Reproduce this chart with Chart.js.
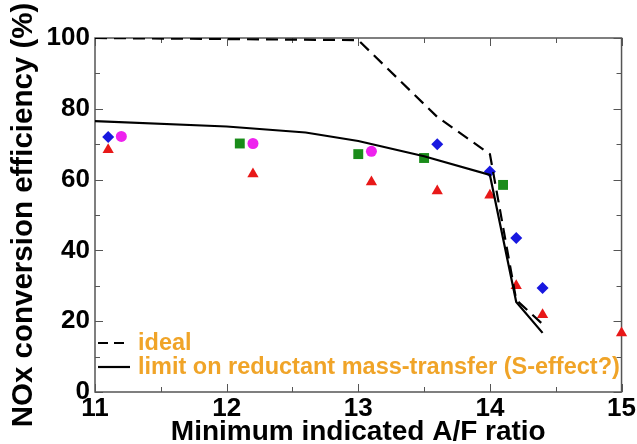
<!DOCTYPE html>
<html>
<head>
<meta charset="utf-8">
<script src="https://cdn.jsdelivr.net/npm/chart.js@4.4.1/dist/chart.umd.min.js"></script>
<style>
  html, body { margin: 0; padding: 0; background: #fff; }
  #wrap { width: 637px; height: 444px; position: relative; }
</style>
</head>
<body>
<div id="wrap"><canvas id="noxChart"></canvas></div>
<script>
// measured points, one array pair per marker type
const diamondAF = [11.1, 13.6, 14.0, 14.2, 14.4];
const diamondEff = [72, 70, 62.3, 43.5, 29.4];
const circleAF = [11.2, 12.2, 13.1];
const circleEff = [72.2, 70.2, 68];
const squareAF = [12.1, 13.0, 13.5, 14.1];
const squareEff = [70.2, 67.2, 66.1, 58.5];
const triangleAF = [11.1, 12.2, 13.1, 13.6, 14.0, 14.2, 14.4, 15.0];
const triangleEff = [68.4, 61.6, 59.3, 56.8, 55.6, 30, 21.8, 16.7];

// model curves
const idealAF = [11, 13, 13.6, 14.0, 14.2, 14.4];
const idealEff = [100, 99.4, 77.7, 67.2, 26, 19.2];
const limitAF = [11, 12, 12.6, 13, 13.5, 14.0, 14.2, 14.4];
const limitEff = [76.5, 75, 73.3, 70.9, 66.6, 61.3, 25.4, 16.7];

const legendLabels = ['ideal', 'limit on reductant mass-transfer (S-effect?)'];
const xTicks = [11, 12, 13, 14, 15];

const FONT = '"Liberation Sans", Arial, sans-serif';
const pts = (xs, ys) => xs.map((x, i) => ({ x: x, y: ys[i] }));

// frame with inward ticks on all four sides
const frameTicks = {
  id: 'frameTicks',
  beforeDatasetsDraw(chart) {
    const { ctx, chartArea: a, scales: { x, y } } = chart;
    ctx.save();
    ctx.strokeStyle = '#555';
    ctx.lineWidth = 1.5;
    ctx.strokeRect(a.left, a.top, a.right - a.left, a.bottom - a.top);
    ctx.beginPath();
    for (let v = 11; v <= 15.001; v += 0.5) {
      const px = Math.round(x.getPixelForValue(v)) + 0.5;
      const len = Number.isInteger(v) ? 8 : 5;
      ctx.moveTo(px, a.bottom); ctx.lineTo(px, a.bottom - len);
      ctx.moveTo(px, a.top); ctx.lineTo(px, a.top + len);
    }
    for (let v = 0; v <= 100; v += 10) {
      const py = Math.round(y.getPixelForValue(v)) + 0.5;
      const len = v % 20 === 0 ? 8 : 5;
      ctx.moveTo(a.left, py); ctx.lineTo(a.left + len, py);
      ctx.moveTo(a.right, py); ctx.lineTo(a.right - len, py);
    }
    ctx.lineWidth = 1;
    ctx.stroke();
    ctx.restore();
  }
};

// line-style key in the lower left of the plot
const lineKey = {
  id: 'lineKey',
  afterDatasetsDraw(chart) {
    const { ctx, chartArea: a } = chart;
    const rows = [a.bottom - 49, a.bottom - 25];
    ctx.save();
    ctx.strokeStyle = '#000';
    ctx.lineWidth = 2.2;
    rows.forEach((ry, i) => {
      ctx.setLineDash(i === 0 ? [10, 6] : []);
      ctx.beginPath();
      ctx.moveTo(a.left + 3, ry);
      ctx.lineTo(a.left + 35, ry);
      ctx.stroke();
    });
    ctx.setLineDash([]);
    ctx.fillStyle = '#f0a428';
    ctx.font = 'bold 23.5px ' + FONT;
    ctx.textBaseline = 'middle';
    rows.forEach((ry, i) => ctx.fillText(legendLabels[i], a.left + 43, ry + 1));
    ctx.restore();
  }
};

const marker = (label, xs, ys, style, color, r) => ({
  label: label, data: pts(xs, ys), showLine: false, clip: false,
  pointStyle: style, pointRadius: r, pointHoverRadius: r,
  backgroundColor: color, borderColor: color, borderWidth: 0
});

new Chart(document.getElementById('noxChart'), {
  type: 'scatter',
  data: {
    datasets: [
      { label: legendLabels[0], data: pts(idealAF, idealEff), showLine: true, borderColor: '#000', borderWidth: 2.2, borderDash: [12, 7], pointRadius: 0, tension: 0 },
      { label: legendLabels[1], data: pts(limitAF, limitEff), showLine: true, borderColor: '#000', borderWidth: 2.2, pointRadius: 0, tension: 0 },
      marker('diamond', diamondAF, diamondEff, 'rectRot', '#1818e0', 6),
      marker('circle', circleAF, circleEff, 'circle', '#ee22ee', 5.5),
      marker('square', squareAF, squareEff, 'rect', '#1a8c1a', 7),
      marker('triangle', triangleAF, triangleEff, 'triangle', '#e81818', 6.5)
    ]
  },
  options: {
    responsive: true,
    maintainAspectRatio: false,
    animation: false,
    layout: { padding: { left: 0, right: 13, top: 38, bottom: 0 } },
    plugins: { legend: { display: false }, tooltip: { enabled: false } },
    scales: {
      x: {
        type: 'linear', min: 11, max: 15,
        afterBuildTicks: (s) => { s.ticks = xTicks.map(v => ({ value: v })); },
        afterFit: (s) => { s.height = 52; },
        grid: { display: false, drawTicks: false },
        border: { display: false },
        ticks: { color: '#000', padding: 1, font: { family: FONT, size: 26, weight: 'bold' } },
        title: { display: true, text: 'Minimum indicated A/F ratio', color: '#000', padding: { top: 0, bottom: -5 }, font: { family: FONT, size: 28, weight: 'bold' } }
      },
      y: {
        type: 'linear', min: 0, max: 100,
        ticks: { stepSize: 20, color: '#000', padding: 5, font: { family: FONT, size: 26, weight: 'bold' } },
        afterFit: (s) => { s.width = 95; },
        grid: { display: false, drawTicks: false },
        border: { display: false },
        title: { display: true, text: 'NOx conversion efficiency (%)', color: '#000', padding: { top: 6 }, font: { family: FONT, size: 29.5, weight: 'bold' } }
      }
    }
  },
  plugins: [frameTicks, lineKey]
});
</script>
</body>
</html>
